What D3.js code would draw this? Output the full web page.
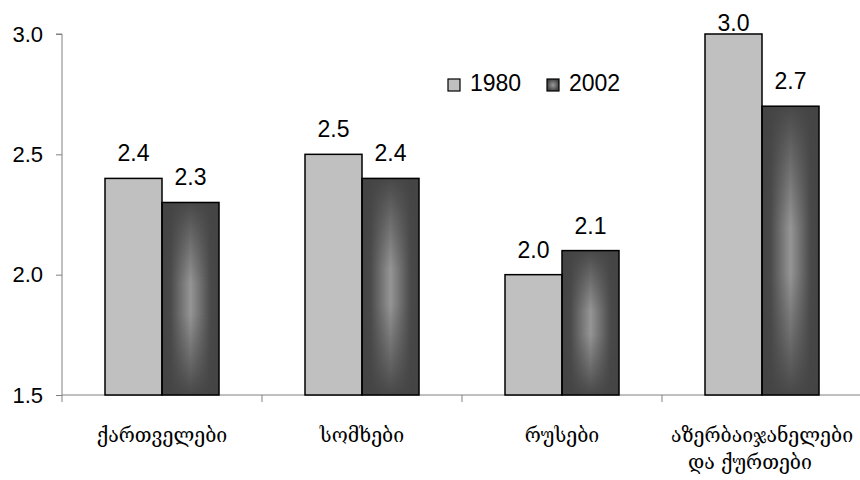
<!DOCTYPE html>
<html><head><meta charset="utf-8">
<script src="https://cdn.jsdelivr.net/npm/d3@7"></script>
<style>body{margin:0;background:#fff}</style>
</head><body>
<svg id="c" width="860" height="480"></svg>
<script>
const categories = ["ქართველები", "სომხები", "რუსები", "აზერბაიჯანელები და ქურთები"];
const categoryLines = [["ქართველები"], ["სომხები"], ["რუსები"], ["აზერბაიჯანელები", "და  ქურთები"]];
const seriesNames = ["1980", "2002"];
const values1980 = [2.4, 2.5, 2.0, 3.0];
const values2002 = [2.3, 2.4, 2.1, 2.7];
const yTicks = [1.5, 2.0, 2.5, 3.0];

(function(){
const svg = d3.select("#c");
const W = 860;
const mLeft = 62, mRight = 862, mTop = 34, mBottom = 395;
const numFont = "Liberation Sans, Arial, sans-serif";

const defs = svg.append("defs");
const hg = defs.append("linearGradient").attr("id","hg").attr("x1","0").attr("x2","1").attr("y1","0").attr("y2","0");
[[0,"#444"],[0.15,"#4a4a4a"],[0.5,"#959595"],[0.85,"#4a4a4a"],[1,"#444"]].forEach(([o,c])=>hg.append("stop").attr("offset",o).attr("stop-color",c));
const vg = defs.append("linearGradient").attr("id","vg").attr("x1","0").attr("x2","0").attr("y1","0").attr("y2","1");
[[0,0.95],[0.15,0.6],[0.42,0],[0.58,0],[0.85,0.6],[1,0.95]].forEach(([o,a])=>vg.append("stop").attr("offset",o).attr("stop-color","#444").attr("stop-opacity",a));
const lgd = defs.append("radialGradient").attr("id","lgd");
[[0,"#999"],[1,"#444"]].forEach(([o,c])=>lgd.append("stop").attr("offset",o).attr("stop-color",c));

const x0 = d3.scaleBand().domain(categories).range([mLeft, mRight]).paddingInner(0.43).paddingOuter(0.215);
const x1 = d3.scaleBand().domain(seriesNames).range([0, x0.bandwidth()]);
const y = d3.scaleLinear().domain([1.5, 3.0]).range([mBottom, mTop]);

const data = categories.map((c,i)=>({cat:c, vals:[{s:"1980",v:values1980[i]},{s:"2002",v:values2002[i]}]}));

// axes
const ya = svg.append("g").attr("transform",`translate(${mLeft},0)`)
  .call(d3.axisLeft(y).tickValues(yTicks).tickFormat(d3.format(".1f")).tickSize(6).tickPadding(13));
ya.select(".domain").attr("stroke","#808080").attr("d",`M-6,${mTop}H0V${mBottom+7}`);
ya.selectAll(".tick line").attr("stroke","#808080");
ya.selectAll(".tick text").attr("font-family",numFont).attr("font-size",22).attr("fill","#000");

const xa = svg.append("g");
xa.append("line").attr("x1",mLeft).attr("x2",W).attr("y1",mBottom).attr("y2",mBottom).attr("stroke","#808080");
const bounds = categories.map(c=>x0(c)-x0.step()*x0.paddingInner()/2).concat([mRight]);
xa.selectAll("line.t").data(bounds.slice(1)).join("line").attr("class","t")
  .attr("x1",d=>d).attr("x2",d=>d).attr("y1",mBottom).attr("y2",mBottom+7).attr("stroke","#808080");

// bars
const g = svg.append("g").selectAll("g").data(data).join("g").attr("transform",d=>`translate(${x0(d.cat)},0)`);
g.selectAll("rect.b").data(d=>d.vals).join("rect").attr("class","b")
  .attr("x",d=>x1(d.s)).attr("y",d=>y(d.v)).attr("width",x1.bandwidth()).attr("height",d=>mBottom-y(d.v))
  .attr("fill",d=>d.s==="1980"?"#c0c0c0":"url(#hg)");
g.selectAll("rect.o").data(d=>d.vals.filter(v=>v.s==="2002")).join("rect").attr("class","o")
  .attr("x",d=>x1(d.s)).attr("y",d=>y(d.v)).attr("width",x1.bandwidth()).attr("height",d=>mBottom-y(d.v))
  .attr("fill","url(#vg)");
g.selectAll("rect.s").data(d=>d.vals).join("rect").attr("class","s")
  .attr("x",d=>x1(d.s)).attr("y",d=>y(d.v)).attr("width",x1.bandwidth()).attr("height",d=>mBottom-y(d.v))
  .attr("fill","none").attr("stroke","#000").attr("stroke-width",1.5);
g.selectAll("text").data(d=>d.vals).join("text")
  .attr("x",d=>x1(d.s)+x1.bandwidth()/2).attr("y",d=>Math.max(y(d.v)-17, 31))
  .attr("text-anchor","middle").attr("font-family",numFont).attr("font-size",23)
  .text(d=>d3.format(".1f")(d.v));

// category labels
const cl = svg.append("g").selectAll("text").data(categories).join("text")
  .attr("text-anchor","middle").attr("font-family","DejaVu Serif, serif").attr("font-size",19.5);
cl.each(function(c,i){
  const t = d3.select(this);
  categoryLines[i].forEach((ln,j)=>{
    t.append("tspan").attr("x",x0(c)+x0.bandwidth()/2 - (j>0?12:0)).attr("y",442+j*27).text(ln);
  });
});

// legend
const lg = svg.append("g");
const legX = [448, 547];
seriesNames.forEach((s,i)=>{
  lg.append("rect").attr("x",legX[i]).attr("y",79).attr("width",12).attr("height",12)
    .attr("fill",i===0?"#c0c0c0":"url(#lgd)").attr("stroke","#000").attr("stroke-width",1.2);
  lg.append("text").attr("x",legX[i]+22).attr("y",91).attr("font-family",numFont).attr("font-size",23).text(s);
});
})();
</script>
</body></html>
